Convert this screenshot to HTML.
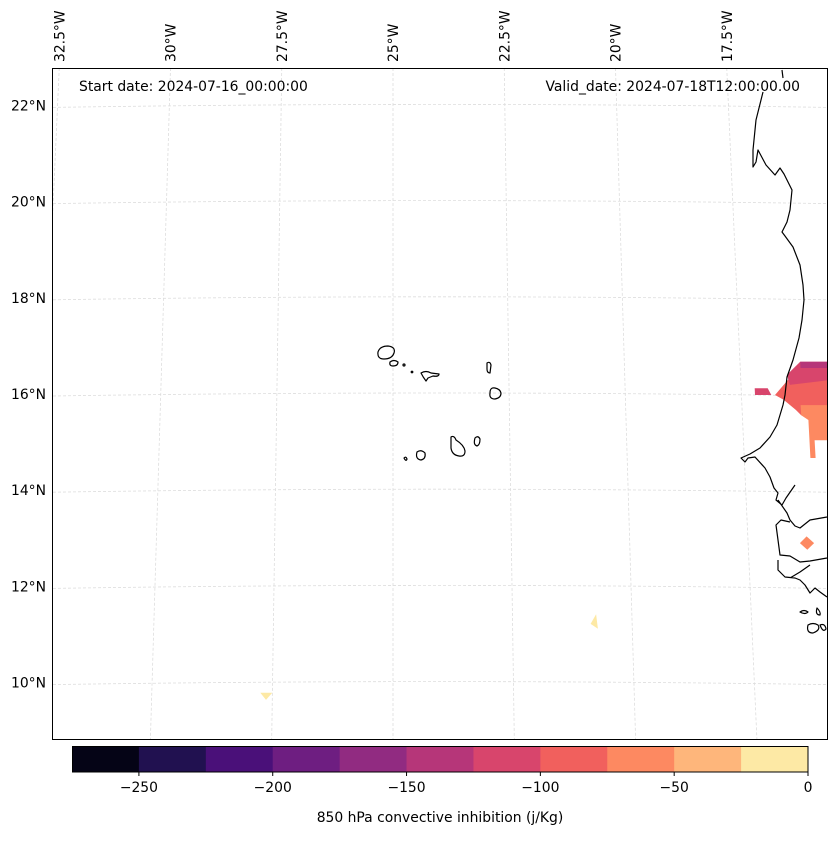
<!DOCTYPE html>
<html><head><meta charset="utf-8"><style>
body{margin:0;background:#fff;font-family:"Liberation Sans","DejaVu Sans",sans-serif}
svg text{font-family:"DejaVu Sans","Liberation Sans",sans-serif;font-size:13.9px;fill:#000}
</style></head><body>
<svg id="chart" width="837" height="836" xmlns="http://www.w3.org/2000/svg">
<defs><clipPath id="frameclip"><rect x="53" y="69" width="774" height="670"/></clipPath></defs>
<g id="grid" clip-path="url(#frameclip)"></g>
<g id="fills" clip-path="url(#frameclip)"></g>
<g id="coast" fill="none" stroke="#000" stroke-width="1.2" stroke-linejoin="round">
<path d="M782,70 L783,78 M763,92 L756,120 L753,150 L753,167 L756,162 L758,150 L766,165 L775,175 L780,168 L784,174 L792,190 L790,210 L787,222 L782,232 L785,236 L793,247 L800,265 L803,285 L804,300 L802,320 L799,338 L793,360 L787,377 L785,395 L783,405 L777,425 L770,437 L760,448 L750,454 L741,458 L745,462 L748,458 L755,457 L765,468 L770,477 L774,488 L778,493 L776,500 L782,505 L786,498 L795,485 M778,500 L787,513 L790,520 L795,526 L800,528 L810,520 L827,517 M827,558 L810,561 L800,562 L790,556 L780,555 L778,540 L776,525 L781,520 L790,522 M778,560 L778,570 L785,577 L795,578 L800,580 L805,585 L810,593 L815,588 L820,592 L827,597 M790,578 L800,572 L810,565"/>
<path d="M800,612 q4,-3 8,0 q-3,3 -8,0z M817,608 q4,4 3,7 q-5,0 -3,-7z M808,625 q5,-3 10,0 q3,5 -5,8 q-7,0 -5,-8z M820,625 q5,-2 6,4 q-3,4 -6,-4z"/>
<path d="M378,352 q2,-6 10,-6 q8,1 6,7 q-2,6 -10,6 q-7,0 -6,-7z"/>
<path d="M390,362 q4,-3 8,0 q0,4 -5,4 q-4,0 -3,-4z"/>
<path d="M421,373 q5,-3 10,0 l8,1 q0,3 -6,2 l-5,2 l-2,3 q-3,-4 -5,-8z"/>
<path d="M487,363 q3,-2 4,2 l-1,8 q-3,0 -3,-4z"/>
<path d="M490,393 q0,-6 5,-5 q5,1 6,5 q0,5 -6,6 q-6,0 -5,-6z"/>
<path d="M451,437 q3,-2 5,3 q8,5 9,11 q0,6 -6,5 q-7,-1 -8,-8 z"/>
<path d="M475,438 q3,-3 5,1 q0,6 -3,7 q-4,-1 -2,-8z"/>
<path d="M417,452 q4,-3 8,1 q1,6 -4,7 q-6,-1 -4,-8z"/>
<path d="M404,458 q2,-2 3,1 q-1,3 -3,-1z"/>
<circle cx="404" cy="365" r="1"/><circle cx="412" cy="372" r="0.8"/>
</g>
<rect x="52.5" y="68.5" width="775" height="671" fill="none" stroke="#000" stroke-width="1"/>
<text x="79" y="91">Start date: 2024-07-16_00:00:00</text>
<text x="800" y="91" text-anchor="end">Valid_date: 2024-07-18T12:00:00.00</text>
<g id="latlabels"></g>
<g id="lonlabels"></g>
<g id="cbar"></g>
<text x="440" y="822" text-anchor="middle">850 hPa convective inhibition (j/Kg)</text>
</svg>
<script>
const latTicks=[22,20,18,16,14,12,10];
const lonTicks=[-32.5,-30,-27.5,-25,-22.5,-20,-17.5];
const lonTickLabels=["32.5°W","30°W","27.5°W","25°W","22.5°W","20°W","17.5°W"];
const levels=[-275,-250,-225,-200,-175,-150,-125,-100,-75,-50,-25,0];
const levelColors=["#050416","#211150","#4a1079","#6e1e81","#912b81","#b63679","#d8456c","#f1605d","#fd8961","#feb67b","#fde9a5"];
const cbTicks=[-250,-200,-150,-100,-50,0];
// CIN patches: level index + [lon,lat] outline
const patchLevels=[7,8,6,5,6,8,10,10];
const patchShapes=[
 [[-16.78,15.98],[-16.45,16.33],[-15.5,16.33],[-15.5,15.67],[-16.24,15.56],[-16.35,15.67],[-16.6,15.88]],
 [[-16.24,15.77],[-15.5,15.77],[-15.5,15.04],[-15.98,15.04],[-15.98,14.67],[-16.09,14.67],[-16.09,15.46],[-16.24,15.56]],
 [[-16.5,16.4],[-16.2,16.67],[-15.5,16.67],[-15.5,16.3],[-16.45,16.19]],
 [[-16.2,16.67],[-15.5,16.67],[-15.5,16.54],[-16.2,16.54]],
 [[-17.21,16.12],[-16.93,16.12],[-16.86,15.98],[-17.21,15.98]],
 [[-16.26,13.04],[-16.11,12.9],[-16.26,12.76],[-16.41,12.9]],
 [[-20.75,11.42],[-20.72,11.12],[-20.87,11.22]],
 [[-27.75,9.79],[-27.5,9.79],[-27.63,9.64]]
];
const NS='http://www.w3.org/2000/svg';
const yOf=lat=>394-(lat-16)*48.1;
const xOf=(lon,lat)=>393+(lon+25)*44.5*(1+0.0065*(22.8-lat));
const cbX=v=>72+(v+275)/275*736;
function mk(tag,attrs,parent){const e=document.createElementNS(NS,tag);for(const k in attrs)e.setAttribute(k,attrs[k]);parent.appendChild(e);return e;}
const grid=document.getElementById('grid');
latTicks.forEach(lat=>{
 const p=mk('path',{d:`M53,${yOf(lat)+2} Q440,${yOf(lat)-4} 827,${yOf(lat)+2}`,fill:'none',stroke:'#ddd','stroke-width':0.8,'stroke-dasharray':'3,2'},grid);
 
 
 const t=mk('text',{x:46,y:yOf(lat)+5,'text-anchor':'end'},document.getElementById('latlabels'));
 t.textContent=lat+'°N';
 
 
});
lonTicks.forEach((lon,i)=>{
 const p=mk('line',{x1:xOf(lon,22.8),y1:68,x2:xOf(lon,8.9),y2:739,stroke:'#ddd','stroke-width':0.8,'stroke-dasharray':'3,2'},grid);
 
 
 const x=xOf(lon,22.8)+5;
 const t=mk('text',{x:x,y:62,transform:`rotate(-90 ${x} 62)`},document.getElementById('lonlabels'));
 t.textContent=lonTickLabels[i];
 
 
});
const fills=document.getElementById('fills');
patchShapes.forEach((sh,i)=>{
 const pts=sh.map(([lo,la])=>xOf(lo,la).toFixed(1)+','+yOf(la).toFixed(1)).join(' ');
 const p=mk('polygon',{points:pts,fill:levelColors[patchLevels[i]]},fills);
 
 
});
const cb=document.getElementById('cbar');
levelColors.forEach((c,i)=>{
 const r=mk('rect',{x:cbX(levels[i]),y:746,width:cbX(levels[i+1])-cbX(levels[i])+0.5,height:26,fill:c},cb);
 
 
});
const fr=mk('rect',{x:72.5,y:746.5,width:735.5,height:25.5,fill:'none',stroke:'#000','stroke-width':1},cb);


cbTicks.forEach(v=>{
 const l=mk('line',{x1:cbX(v),x2:cbX(v),y1:772,y2:776,stroke:'#000'},cb);
 
 
 const t=mk('text',{x:cbX(v),y:792,'text-anchor':'middle'},cb);
 t.textContent=v<0?'\u2212'+Math.abs(v):String(v);
 
 
});
</script>
</body></html>
